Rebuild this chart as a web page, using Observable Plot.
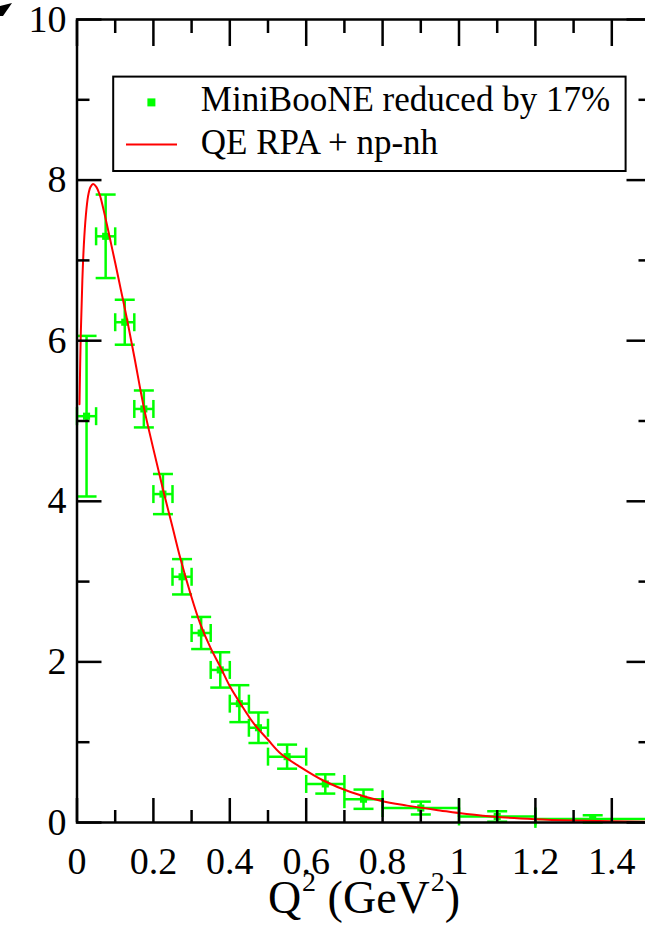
<!DOCTYPE html>
<html><head><meta charset="utf-8">
<script src="https://cdn.jsdelivr.net/npm/d3@7"></script>
<script src="https://cdn.jsdelivr.net/npm/@observablehq/plot@0.6"></script>
<style>
html,body{margin:0;padding:0;background:#fff;}
#wrap{position:relative;width:645px;height:930px;overflow:hidden;font-family:"Liberation Serif","Times New Roman",Times,serif;}
#wrap svg, #wrap svg text, #wrap svg tspan{font-family:"Liberation Serif","Times New Roman",Times,serif !important;}
#wrap svg.overlay{position:absolute;left:0;top:0;pointer-events:none;}
</style></head><body><div id="wrap"></div>
<script>
// MiniBooNE data (reduced by 17%)
const binCenter = [0.025,0.075,0.125,0.175,0.225,0.275,0.325,0.375,0.425,0.475,0.55,0.65,0.75,0.9,1.1,1.35];
const binLow    = [0,0.05,0.1,0.15,0.2,0.25,0.3,0.35,0.4,0.45,0.5,0.6,0.7,0.8,1.0,1.2];
const binHigh   = [0.05,0.1,0.15,0.2,0.25,0.3,0.35,0.4,0.45,0.5,0.6,0.7,0.8,1.0,1.2,1.5];
const dataValue = [5.06,7.30,6.23,5.15,4.09,3.06,2.36,1.90,1.48,1.18,0.82,0.48,0.29,0.18,0.075,0.045];
const dataError = [1.0,0.52,0.28,0.23,0.25,0.22,0.2,0.22,0.23,0.19,0.15,0.12,0.12,0.08,0.065,0.045];
// QE RPA + np-nh curve
const curveQ2 = [0.0065,0.01,0.014,0.018,0.023,0.029,0.035,0.042,0.05,0.06,0.07,0.08,0.09,0.1,0.115,0.13,0.15,0.175,0.2,0.225,0.25,0.27,0.297,0.323,0.349,0.376,0.402,0.428,0.463,0.5,0.533,0.585,0.646,0.716,0.795,0.864,0.95,1.02,1.11,1.2,1.3,1.4,1.5];
const curveValue = [5.21,6.1,6.75,7.2,7.55,7.8,7.91,7.95,7.92,7.81,7.62,7.41,7.19,6.97,6.63,6.29,5.8,5.17,4.65,4.15,3.68,3.3,2.85,2.47,2.18,1.93,1.68,1.48,1.23,1.03,0.86,0.69,0.52,0.38,0.27,0.21,0.15,0.105,0.066,0.042,0.026,0.016,0.01];
// ticks
const xMajorTicks = [0,0.2,0.4,0.6,0.8,1,1.2,1.4];
const xMinorTicks = [0.1,0.3,0.5,0.7,0.9,1.1,1.3,1.5];
const yMajorTicks = [0,2,4,6,8,10];
const yMinorTicks = [1,3,5,7,9];
const legendLabels = ["MiniBooNE reduced by 17%","QE RPA + np-nh"];

const G = "#00ff00";
const FONT = "Liberation Serif, Times New Roman, serif";
const pts = binCenter.map((q,i)=>({q, lo:binLow[i], hi:binHigh[i], v:dataValue[i], vlo:dataValue[i]-dataError[i], vhi:dataValue[i]+dataError[i]}));
const curve = curveQ2.map((q,i)=>({q, v:curveValue[i]}));
const hCap = {draw(ctx,size){const r=Math.sqrt(size/Math.PI); ctx.moveTo(-r,0); ctx.lineTo(r,0);}};
const vCap = {draw(ctx,size){const r=Math.sqrt(size/Math.PI); ctx.moveTo(0,-r); ctx.lineTo(0,r);}};
const blank = () => "";
const tk = {tickFormat: blank, label: null, strokeWidth: 2.5};

const chart = Plot.plot({
  width: 650, height: 930,
  marginLeft: 76.5, marginRight: 0.5, marginTop: 19, marginBottom: 108,
  x: {domain: [0,1.5]},
  y: {domain: [0,10]},
  style: {background: "white", maxWidth: "none", color: "black"},
  marks: [
    Plot.ruleX(pts, {x:"q", y1:"vlo", y2:"vhi", stroke:G, strokeWidth:2.5}),
    Plot.ruleY(pts, {y:"v", x1:"lo", x2:"hi", stroke:G, strokeWidth:2.5}),
    Plot.dot(pts, {x:"q", y:"vhi", symbol:hCap, r:10, stroke:G, fill:"none", strokeWidth:2.5}),
    Plot.dot(pts, {x:"q", y:"vlo", symbol:hCap, r:10, stroke:G, fill:"none", strokeWidth:2.5}),
    Plot.dot(pts, {x:"lo", y:"v", symbol:vCap, r:9, stroke:G, fill:"none", strokeWidth:2.5}),
    Plot.dot(pts, {x:"hi", y:"v", symbol:vCap, r:9, stroke:G, fill:"none", strokeWidth:2.5}),
    Plot.dot(pts, {x:"q", y:"v", symbol:"square", r:4, fill:G, stroke:"none"}),
    Plot.line(curve, {x:"q", y:"v", stroke:"red", strokeWidth:2, curve:"catmull-rom"}),
    Plot.frame({stroke:"black", strokeWidth:2.5}),
    Plot.axisX(xMajorTicks, {anchor:"bottom", tickSize:-24, ...tk}),
    Plot.axisX(xMinorTicks, {anchor:"bottom", tickSize:-12, ...tk}),
    Plot.axisX(xMajorTicks, {anchor:"top", tickSize:-26, ...tk}),
    Plot.axisX(xMinorTicks, {anchor:"top", tickSize:-13, ...tk}),
    Plot.axisY(yMajorTicks, {anchor:"left", tickSize:-25, ...tk}),
    Plot.axisY(yMinorTicks, {anchor:"left", tickSize:-13, ...tk}),
    Plot.axisY(yMajorTicks, {anchor:"right", tickSize:-24, ...tk}),
    Plot.axisY(yMinorTicks, {anchor:"right", tickSize:-12, ...tk}),
    Plot.axisX(xMajorTicks, {anchor:"bottom", tickSize:0, tickPadding:25, fontSize:38, label:null, tickFormat:d=>String(d)}),
    Plot.axisY(yMajorTicks, {anchor:"left", tickSize:0, tickPadding:10.5, fontSize:38, label:null, tickFormat:d=>String(d)})
  ]
});
chart.setAttribute("font-family", FONT);
const wrap = document.getElementById("wrap");
wrap.appendChild(chart);

// overlay: legend + axis title + crop artefact
const ov = d3.create("svg").attr("class","overlay").attr("width",645).attr("height",930)
  .attr("font-family", FONT);
ov.append("polygon").attr("points","0,6 12,3 3,16 0,16").attr("fill","black");
const lg = ov.append("g");
lg.append("rect").attr("x",113.2).attr("y",76.6).attr("width",512.4).attr("height",94.4)
  .attr("fill","white").attr("stroke","black").attr("stroke-width",2);
lg.append("rect").attr("x",147.4).attr("y",98.4).attr("width",8).attr("height",8).attr("fill",G);
lg.append("line").attr("x1",126).attr("x2",177).attr("y1",144.5).attr("y2",144.5).attr("stroke","red").attr("stroke-width",2);
lg.append("text").attr("x",200.8).attr("y",111.4).attr("font-size",35).text(legendLabels[0]);
lg.append("text").attr("x",200.8).attr("y",153.8).attr("font-size",35).text(legendLabels[1]);
const t = ov.append("text").attr("x",364).attr("y",913).attr("text-anchor","middle").attr("font-size",46);
t.append("tspan").text("Q");
t.append("tspan").attr("dy",-22).attr("font-size",28).attr("dx",1).text("2");
t.append("tspan").attr("dy",22).text(" (GeV");
t.append("tspan").attr("dy",-22).attr("font-size",28).attr("dx",1).text("2");
t.append("tspan").attr("dy",22).text(")");
wrap.appendChild(ov.node());
</script></body></html>
